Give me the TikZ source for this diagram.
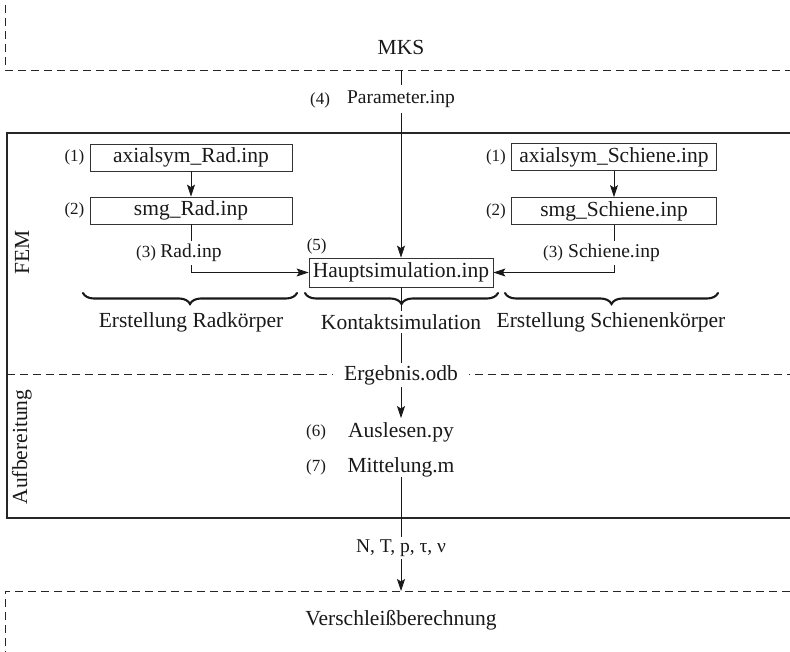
\documentclass[tikz,border=0pt]{standalone}
\usepackage{fontspec}
\setmainfont{Liberation Serif}
\usetikzlibrary{arrows.meta,decorations.pathreplacing}
\begin{document}
\begin{tikzpicture}[x=1pt,y=-1pt,
  every node/.style={text=black!90},
  main/.style={font=\fontsize{21.5}{24}\selectfont, inner sep=0pt},
  sub/.style={font=\fontsize{19.5}{22}\selectfont, inner sep=0pt},
  num/.style={font=\fontsize{17}{20}\selectfont, inner sep=0pt},
  filebox/.style={draw=black!80, line width=0.8pt, minimum height=27pt, inner sep=0pt, font=\fontsize{21.5}{24}\selectfont},
  conn/.style={line width=0.8pt, draw=black!90},
  arr/.style={conn, -{Stealth[length=12pt,width=8pt,inset=2.5pt]}},
  mask/.style={fill=white, inner xsep=4pt, inner ysep=3pt},
  sep/.style={line width=0.8pt, draw=black!85, dash pattern=on 8pt off 5pt},
  frame/.style={line width=2pt, draw=black!85},
  curly/.style={decorate, decoration={brace, mirror, amplitude=11pt}, line width=2.1pt, line cap=round, draw=black!90},
]
\useasboundingbox (0,0) rectangle (790,652);

% MKS region
\coordinate (mkstop) at (401,70);
\draw[sep] (5,5) -- (5,70) -- (790,70);
\node[main] (mks) at (401,47) {MKS};

% FEM / Aufbereitung frame
\draw[frame] (792,133) -- (7,133) -- (7,518) -- (792,518);
\draw[sep] (7,374) -- (790,374);
\node[main, rotate=90] (fem) at (22,252) {FEM};
\node[main, rotate=90] (aufb) at (22,447) {Aufbereitung};

% file boxes
\node[filebox, minimum width=202pt] (axrad) at (191,157.5) {axialsym\_Rad.inp};
\node[filebox, minimum width=202pt] (smgrad) at (191,210.5) {smg\_Rad.inp};
\node[filebox, minimum width=205pt] (axsch) at (614,157) {axialsym\_Schiene.inp};
\node[filebox, minimum width=205pt] (smgsch) at (614,211) {smg\_Schiene.inp};
\node[filebox, minimum width=184pt, minimum height=29pt] (haupt) at (401,272.5) {Hauptsimulation.inp};

\node[num, anchor=east] (n1r) at ([xshift=-5pt]axrad.west) {(1)};
\node[num, anchor=east] (n2r) at ([xshift=-5pt]smgrad.west) {(2)};
\node[num, anchor=east] (n1s) at ([xshift=-5pt]axsch.west) {(1)};
\node[num, anchor=east] (n2s) at ([xshift=-5pt]smgsch.west) {(2)};
\node[num, anchor=south west] (n5) at ([xshift=-2pt,yshift=3pt]haupt.north west) {(5)};

% Aufbereitung steps
\node[main, inner ysep=4pt] (ausl) at (401,432) {Auslesen.py};
\node[num] (n6) at (316,432) {(6)};
\node[main] (mitt) at (401,467) {Mittelung.m};
\node[num] (n7) at (316,467) {(7)};

% bottom region
\coordinate (vbtop) at (401,591);
\draw[sep] (790,591) -- (5,591) -- (5,652);
\node[main] (versch) at (401,620) {Verschleißberechnung};

% connectors
\draw[arr] (axrad.south) -- (smgrad.north);
\draw[arr] (axsch.south) -- (smgsch.north);
\draw[arr] (smgrad.south) |- (haupt.west);
\draw[arr] (smgsch.south) |- (haupt.east);
\draw[arr] (mkstop) -- (haupt.north);
\draw[arr] (haupt.south) -- (ausl.north);
\draw[arr] (mitt.south) -- (vbtop);

% braces
\draw[curly] (83,293) -- (297,293);
\draw[curly] (305,293) -- (498,293);
\draw[curly] (505,293) -- (718,293);
\node[main] (erad) at (191,322) {Erstellung Radkörper};
\node[main, mask] (kontakt) at (401,322) {Kontaktsimulation};
\node[main] (esch) at (611,322) {Erstellung Schienenkörper};

% labels on connectors
\node[sub, mask, inner ysep=5pt] (param) at (401,99) {Parameter.inp};
\node[num] (n4) at (320,100) {(4)};
\node[sub, mask] (radinp) at (191,253) {Rad.inp};
\node[num] (n3r) at (146,253) {(3)};
\node[sub, mask] (schinp) at (614,253) {Schiene.inp};
\node[num] (n3s) at (553,253) {(3)};
\node[main, fill=white, inner xsep=11pt, inner ysep=2pt] (ergeb) at (401,375) {Ergebnis.odb};
\node[sub, mask] (ntp) at (401,548) {N, T, p, τ, ν};
\end{tikzpicture}
\end{document}
